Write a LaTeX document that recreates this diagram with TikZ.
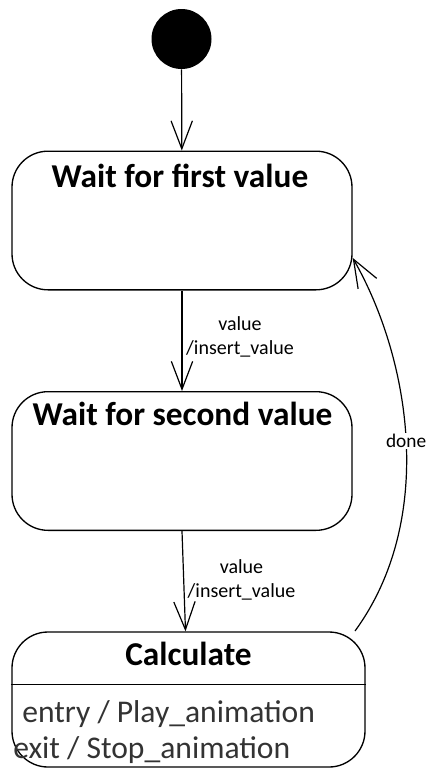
\documentclass[tikz,border=0pt]{standalone}
\usepackage{fontspec}
\setmainfont{Carlito}
\usetikzlibrary{arrows.meta,positioning}

\begin{document}
\begin{tikzpicture}[x=0.75pt,y=-0.75pt]
  \tikzset{state/.style={draw,line width=1pt,rounded corners=27pt,inner sep=0pt,minimum width=255pt,minimum height=104pt}}
  \tikzset{statename/.style={font=\bfseries\fontsize{25}{28}\selectfont,anchor=base,inner sep=0pt}}
  \tikzset{action/.style={font=\fontsize{23.7}{26}\selectfont,text=black!80,anchor=base west,inner sep=0pt}}
  \tikzset{trans/.style={draw,line width=0.9pt,-{Straight Barb[length=21pt,width=16pt,line width=0.9pt]}}}
  \tikzset{guard/.style={font=\fontsize{15}{18.5}\selectfont,align=center,inner sep=0pt}}
  \useasboundingbox (0,0) rectangle (427,769);
  % states
  \node[circle,fill,inner sep=0pt,minimum size=45pt] (init) at (181.5,39) {};
  \node[state] (first) at (182,220.5) {};
  \node[statename] (firstname) at (180,187) {Wait for first value};
  \node[state] (second) at (182,461) {};
  \node[statename] (secondname) at (182.5,425) {Wait for second value};
  \node[state,minimum width=264.75pt,minimum height=101.25pt] (calc) at (188.5,699.5) {};
  \node[statename] (calcname) at (188.5,665) {Calculate};
  \draw[line width=1pt] ([yshift=-39.75pt]calc.north west) -- ([yshift=-39.75pt]calc.north east);
  \node[action] (entry) at (22,722) {entry / Play\_animation};
  \node[action] (exit) at (13,758) {exit / Stop\_animation};
  % transitions
  \draw[trans] (init) -- (first);
  \draw[trans] (first) -- (second);
  \node[guard] (guard1) at (240,337) {value\\/insert\_value};
  \draw[trans] (second.south) -- ([xshift=-2.25pt]calc.north);
  \node[guard] (guard2) at (241.5,580) {value\\/insert\_value};
  \coordinate (donestart) at (355,631);
  \coordinate (doneend) at ([yshift=-28pt]first.east);
  \draw[trans] (donestart) .. controls (436,520) and (411,360) .. (doneend)
    node[pos=0.5,fill=white,font=\fontsize{14.5}{18}\selectfont,inner sep=1pt] (done) {done};
\end{tikzpicture}
\end{document}
